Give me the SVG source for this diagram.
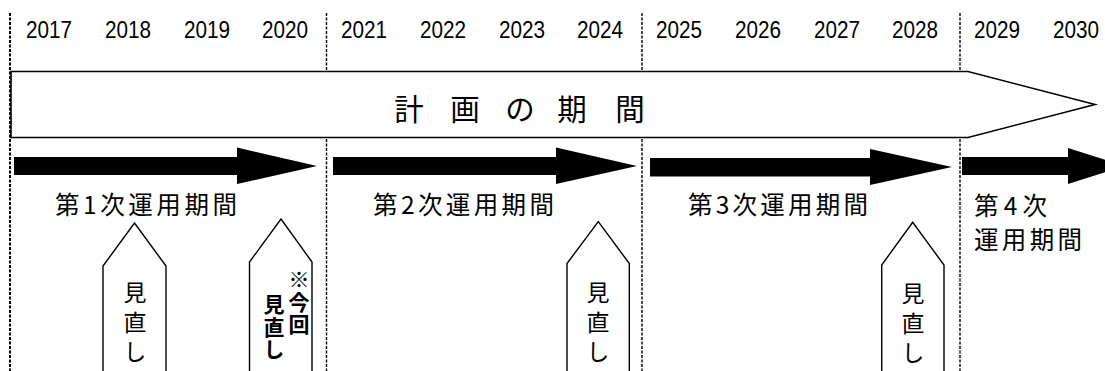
<svg xmlns="http://www.w3.org/2000/svg" width="1105" height="371" viewBox="0 0 1105 371">
<style>
.yr{font-family:"Liberation Sans",Arial,sans-serif;font-size:23px;fill:#000;text-anchor:middle}
.jp{font-family:"Noto Sans CJK JP","Noto Sans CJK SC",sans-serif;fill:#000}
.lbl{font-size:24.5px}
.big{font-size:29.5px;text-anchor:middle}
.v{font-size:23px;writing-mode:vertical-rl;letter-spacing:6.5px}
.vb{font-size:21px;writing-mode:vertical-rl;font-weight:bold;letter-spacing:1.5px}
.dash{stroke:#000;stroke-width:1.4;stroke-dasharray:3 1.5;fill:none}
.pent{fill:#fff;stroke:#000;stroke-width:1.4}
</style>
<rect width="1105" height="371" fill="#fff"/>
<g id="gridlines">
<line class="dash" x1="10" y1="13" x2="10" y2="371" style="stroke-width:2"/>
<line class="dash" x1="326.5" y1="13" x2="326.5" y2="371"/>
<line class="dash" x1="642" y1="13" x2="642" y2="371"/>
<line class="dash" x1="960" y1="13" x2="960" y2="371"/>
</g>
<g id="years">
<text class="yr" x="49" y="37.5" textLength="46" lengthAdjust="spacingAndGlyphs">2017</text>
<text class="yr" x="128" y="37.5" textLength="46" lengthAdjust="spacingAndGlyphs">2018</text>
<text class="yr" x="207" y="37.5" textLength="46" lengthAdjust="spacingAndGlyphs">2019</text>
<text class="yr" x="285" y="37.5" textLength="46" lengthAdjust="spacingAndGlyphs">2020</text>
<text class="yr" x="364" y="37.5" textLength="46" lengthAdjust="spacingAndGlyphs">2021</text>
<text class="yr" x="443" y="37.5" textLength="46" lengthAdjust="spacingAndGlyphs">2022</text>
<text class="yr" x="522" y="37.5" textLength="46" lengthAdjust="spacingAndGlyphs">2023</text>
<text class="yr" x="600" y="37.5" textLength="46" lengthAdjust="spacingAndGlyphs">2024</text>
<text class="yr" x="679" y="37.5" textLength="46" lengthAdjust="spacingAndGlyphs">2025</text>
<text class="yr" x="758" y="37.5" textLength="46" lengthAdjust="spacingAndGlyphs">2026</text>
<text class="yr" x="837" y="37.5" textLength="46" lengthAdjust="spacingAndGlyphs">2027</text>
<text class="yr" x="915" y="37.5" textLength="46" lengthAdjust="spacingAndGlyphs">2028</text>
<text class="yr" x="997" y="37.5" textLength="46" lengthAdjust="spacingAndGlyphs">2029</text>
<text class="yr" x="1076" y="37.5" textLength="46" lengthAdjust="spacingAndGlyphs">2030</text>
</g>
<g id="plan-period">
<polygon points="11,71.5 968,71.5 1095,104.5 968,137.5 11,137.5" fill="#fff" stroke="#000" stroke-width="1.6"/>
<text class="jp big" x="409" y="120">計</text>
<text class="jp big" x="465" y="120">画</text>
<text class="jp big" x="520" y="120">の</text>
<text class="jp big" x="572" y="120">期</text>
<text class="jp big" x="630" y="120">間</text>
</g>
<g id="connectors">
<polygon points="14,157 237,157 237,147.5 317,166 237,184 237,175 14,175" fill="#000"/>
<polygon points="333,157 556,157 556,147.5 637,166 556,184 556,175 333,175" fill="#000"/>
<polygon points="650,158 870,158 870,149 952,167 870,185 870,176.5 650,176.5" fill="#000"/>
<polygon points="962,157 1068,157 1068,148 1125,166 1068,184 1068,175 962,175" fill="#000"/>
</g>
<g id="period1">
<text class="jp lbl" x="55" y="214" textLength="182" lengthAdjust="spacing">第1次運用期間</text>
</g>
<g id="period2">
<text class="jp lbl" x="373" y="214" textLength="181" lengthAdjust="spacing">第2次運用期間</text>
</g>
<g id="period3">
<text class="jp lbl" x="688" y="214" textLength="180" lengthAdjust="spacing">第3次運用期間</text>
</g>
<g id="period4">
<text class="jp lbl" x="974" y="215" textLength="73" lengthAdjust="spacing">第4次</text>
<text class="jp lbl" x="974" y="249" textLength="108" lengthAdjust="spacing">運用期間</text>
</g>
<g id="review1">
<polygon class="pent" points="103,372 103,266 134.5,223 166,266 166,372"/>
<text class="jp v" x="135" y="281">見直し</text>
</g>
<g id="review2">
<polygon class="pent" points="249.5,372 249.5,262 281,219 312,262 312,372"/>
<text class="jp vb" x="299" y="269">※今回</text>
<text class="jp vb" x="274" y="294">見直し</text>
</g>
<g id="review3">
<polygon class="pent" points="567,372 567,263.5 598.3,221.7 629.3,263.5 629.3,372"/>
<text class="jp v" x="598" y="281">見直し</text>
</g>
<g id="review4">
<polygon class="pent" points="881.7,372 881.7,265 912.7,222.3 944,265 944,372"/>
<text class="jp v" x="913" y="282">見直し</text>
</g>
</svg>
